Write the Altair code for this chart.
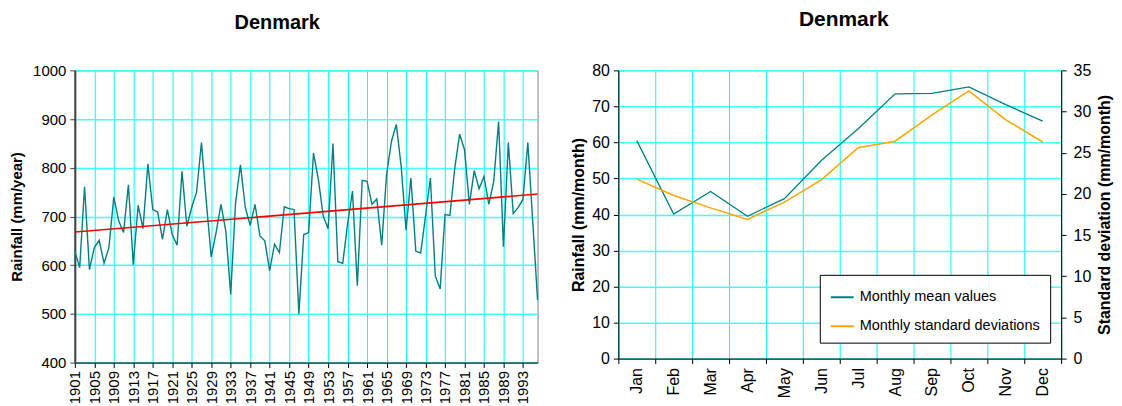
import altair as alt
import pandas as pd

FONT = "Liberation Sans"

# ---------------- Left chart data: annual rainfall ----------------
years = list(range(1901, 1997))
annual_rain = [
    629, 595, 761, 591, 636, 651, 604, 636, 740, 691,
    667, 765, 601, 723, 675, 808, 714, 709, 653, 714,
    663, 641, 793, 680, 719, 750, 852, 730, 617, 667,
    725, 670, 540, 728, 806, 718, 682, 725, 660, 650,
    589, 643, 626, 720, 716, 714, 500, 663, 667, 830,
    776, 701, 675, 850, 607, 604, 684, 752, 558, 774,
    772, 725, 736, 641, 786, 854, 889, 803, 672, 779,
    629, 625, 701, 779, 578, 551, 704, 702, 799, 869,
    837, 725, 794, 757, 782, 725, 772, 895, 638, 852,
    706, 718, 735, 852, 691, 529,
]
trend_years = [1901, 1996]
trend_vals = [668, 746]
year_ticks = list(range(1901, 1997, 4))
rain_ticks = list(range(400, 1001, 100))

# ---------------- Right chart data: monthly statistics ----------------
months = ["Jan", "Feb", "Mar", "Apr", "May", "Jun",
          "Jul", "Aug", "Sep", "Oct", "Nov", "Dec"]
monthly_mean = [60.5, 40.1, 46.4, 39.5, 44.4, 55.0, 63.8, 73.5, 73.6, 75.4, 70.5, 65.9]
monthly_sd = [21.8, 19.8, 18.3, 16.9, 19.0, 21.7, 25.6, 26.4, 29.6, 32.5, 29.0, 26.3]
series_names = ["Monthly mean values", "Monthly standard deviations"]
series_colors = ["#008080", "#FFA500"]
mean_ticks = list(range(0, 81, 10))
sd_ticks = list(range(0, 36, 5))

annual_df = pd.DataFrame({"year": years, "rain": annual_rain})
trend_df = pd.DataFrame({"year": trend_years, "rain": trend_vals})
monthly_df = pd.DataFrame({"month": months, "mean": monthly_mean, "sd": monthly_sd})

# ---------------- Left chart ----------------
xA = alt.X(
    "year:Q",
    scale=alt.Scale(domain=[1901, 1996], nice=False, zero=False),
    axis=alt.Axis(
        values=year_ticks, format="d", title=None, labelAngle=270,
        labelFontSize=15, labelPadding=3, tickSize=5, labelOverlap=False,
        labelBound=False, labelFlush=False,
        grid=True, gridColor="#00FFFF", gridWidth=1,
        domainColor="black", tickColor="black",
    ),
)
yA = alt.Y(
    "rain:Q",
    scale=alt.Scale(domain=[400, 1000], nice=False, zero=False),
    axis=alt.Axis(
        values=rain_ticks, format="d", title="Rainfall (mm/year)",
        titleFontSize=15, titleFontWeight="bold", titlePadding=8,
        labelFontSize=15, labelPadding=4, tickSize=5,
        grid=True, gridColor="#40FFFF", gridWidth=1.5,
        domainColor="#404040", domainWidth=2, tickColor="#404040",
    ),
)

left = alt.layer(
    alt.Chart(annual_df).mark_line(color="#008080", strokeWidth=1.4).encode(x=xA, y=yA),
    alt.Chart(trend_df).mark_line(color="#FF0000", strokeWidth=1.6).encode(x=xA, y=yA),
).properties(
    width=464, height=293,
    title=alt.TitleParams("Denmark", fontSize=20, fontWeight="bold", offset=30,
                          dx=-29, color="black"),
)

# ---------------- Right chart ----------------
xM = alt.X(
    "month:N", sort=months, bandPosition=0.5,
    scale=alt.Scale(type="band", paddingInner=0, paddingOuter=0),
    axis=alt.Axis(
        title=None, labelAngle=270, tickBand="extent",
        labelFontSize=16, labelPadding=4, tickSize=5,
        grid=True, gridColor="#00FFFF", gridWidth=1,
        domainColor="black", tickColor="black",
    ),
)
color_enc = alt.Color(
    "series:N",
    scale=alt.Scale(domain=series_names, range=series_colors),
    legend=alt.Legend(
        title=None, orient="none", legendX=747, legendY=205,
        strokeColor="black", fillColor="white", padding=10,
        symbolType="stroke", symbolSize=529, symbolStrokeWidth=2,
        labelFontSize=14.5, labelOffset=5, rowPadding=10, labelColor="black",
        labelLimit=400,
    ),
)

mean_layer = alt.Chart(monthly_df).transform_calculate(
    series="'Monthly mean values'"
).mark_line(strokeWidth=1.3).encode(
    x=xM,
    y=alt.Y(
        "mean:Q",
        scale=alt.Scale(domain=[0, 80], nice=False),
        axis=alt.Axis(
            values=mean_ticks, title="Rainfall (mm/month)",
            titleFontSize=16, titleFontWeight="bold", titlePadding=5,
            labelFontSize=16, labelPadding=4, tickSize=5,
            grid=True, gridColor="#40FFFF", gridWidth=1.5,
            domainColor="black", tickColor="black",
        ),
    ),
    color=color_enc,
)

sd_layer = alt.Chart(monthly_df).transform_calculate(
    series="'Monthly standard deviations'"
).mark_line(strokeWidth=1.5).encode(
    x=xM,
    y=alt.Y(
        "sd:Q",
        scale=alt.Scale(domain=[0, 35], nice=False),
        axis=alt.Axis(
            orient="right", values=sd_ticks, title="Standard deviation (mm/month)",
            titleAngle=270, titleBaseline="top", titleFontSize=16, titleFontWeight="bold",
            titlePadding=6, labelFontSize=16, labelPadding=7, tickSize=5,
            grid=False, domainColor="black", tickColor="black",
        ),
    ),
    color=color_enc,
)

right = alt.layer(mean_layer, sd_layer).resolve_scale(y="independent").properties(
    width=444, height=289,
    title=alt.TitleParams("Denmark", fontSize=21, fontWeight="bold", offset=32,
                          dx=4, color="black"),
    view=alt.ViewBackground(stroke="#70B0B0"),
)

chart = alt.hconcat(left, right, spacing=81, bounds="flush").properties(
    padding={"left": 1, "top": 0, "right": 0, "bottom": 0},
).configure(font=FONT).configure_view(stroke="#808080").configure_axis(
    labelColor="black", titleColor="black"
)

chart.save("out.html", embed_options={"renderer": "svg", "actions": False})
